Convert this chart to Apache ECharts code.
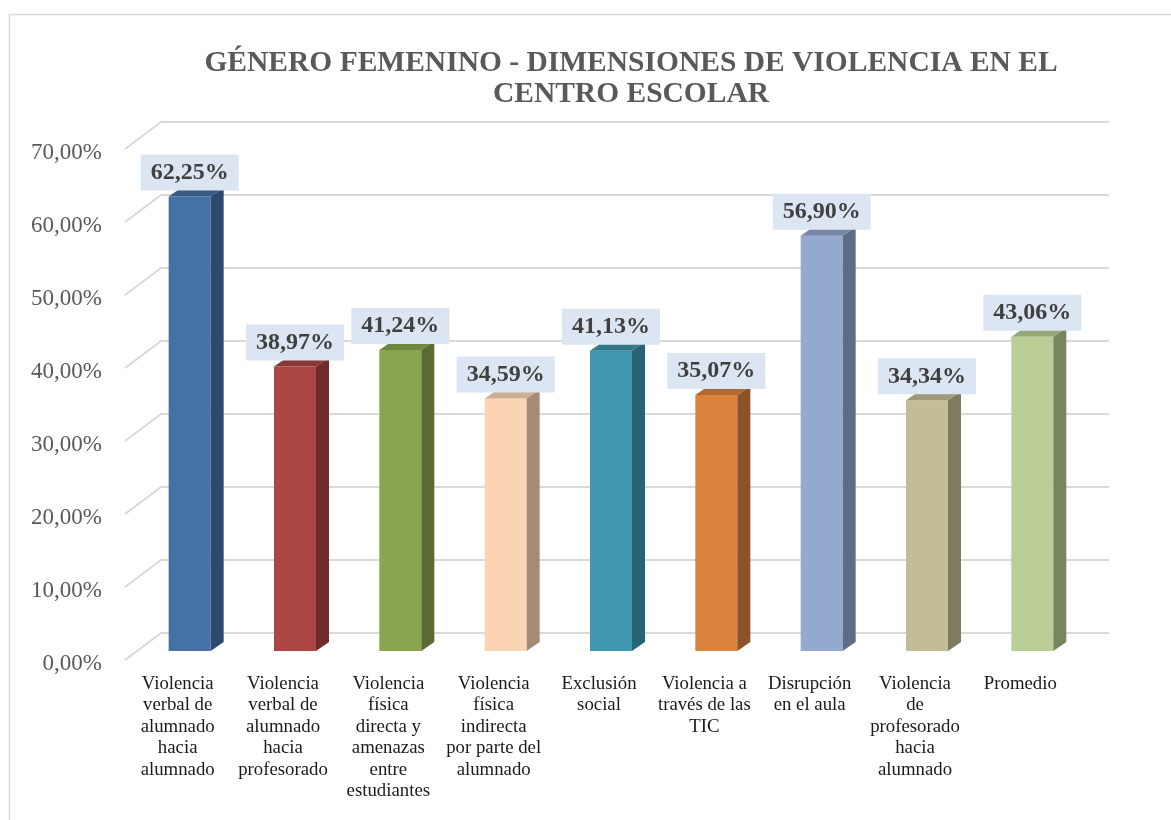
<!DOCTYPE html>
<html>
<head>
<meta charset="utf-8">
<script src="https://cdn.jsdelivr.net/npm/echarts@6/dist/echarts.min.js"></script>
<style>
html,body{margin:0;padding:0;background:#fff;}
#chart{width:1171px;height:820px;}
</style>
</head>
<body>
<div id="chart"></div>
<script>
var titleLines = ['GÉNERO FEMENINO - DIMENSIONES DE VIOLENCIA EN EL', 'CENTRO ESCOLAR'];
var categories = [
  'Violencia\nverbal de\nalumnado\nhacia\nalumnado',
  'Violencia\nverbal de\nalumnado\nhacia\nprofesorado',
  'Violencia\nfísica\ndirecta y\namenazas\nentre\nestudiantes',
  'Violencia\nfísica\nindirecta\npor parte del\nalumnado',
  'Exclusión\nsocial',
  'Violencia a\ntravés de las\nTIC',
  'Disrupción\nen el aula',
  'Violencia\nde\nprofesorado\nhacia\nalumnado',
  'Promedio'
];
var values = [62.25, 38.97, 41.24, 34.59, 41.13, 35.07, 56.90, 34.34, 43.06];
var yTicks = [0, 10, 20, 30, 40, 50, 60, 70];
var frontColors = ['#4571A6', '#AA4744', '#89A54E', '#FBD4B4', '#4298AF', '#DB833D', '#94A9D0', '#C4BC96', '#B9CD95'];
var sideColors  = ['#2D4A6E', '#6E2C2A', '#5B6B33', '#A58A75', '#296272', '#8C5328', '#5E6D86', '#807A61', '#788660'];
var topColors   = ['#355A87', '#8A3836', '#6F8640', '#CDAE93', '#33798C', '#B06A31', '#7786A6', '#9F997A', '#96A87A'];

function fmt(v) { return v.toFixed(2).replace('.', ',') + '%'; }

var FONT = '"Liberation Serif", "Times New Roman", serif';
var DX = 36, DY = -27;       // wall depth
var FX = 12, FY = -9;        // bar front face offset
var BX = 13, BY = -9;        // bar depth
var BW = 42;                 // bar width

var chart = echarts.init(document.getElementById('chart'));
chart.setOption({
  animation: false,
  backgroundColor: '#ffffff',
  graphic: [
    { type: 'rect', shape: { x: 9.5, y: 14.5, width: 1400, height: 1000 },
      style: { fill: 'none', stroke: '#D9D9D9', lineWidth: 1.5 }, z: 0 },
    { type: 'text', x: 631, y: 48,
      style: { text: titleLines.join('\n'), textAlign: 'center', textVerticalAlign: 'top',
               font: 'bold 29.5px ' + FONT, fill: '#595959', lineHeight: 31 } }
  ],
  grid: { left: 125, right: 98, top: 149, bottom: 160, containLabel: false },
  xAxis: {
    type: 'category', data: categories,
    axisLine: { show: false }, axisTick: { show: false }, splitLine: { show: false },
    axisLabel: { interval: 0, margin: 13, fontFamily: FONT, fontSize: 18.8, lineHeight: 21.5, color: '#1a1a1a' }
  },
  yAxis: {
    type: 'value', min: 0, max: 70, interval: 10,
    axisLine: { show: false }, axisTick: { show: false }, splitLine: { show: false },
    axisLabel: { margin: 23, fontFamily: FONT, fontSize: 23, color: '#595959',
                 formatter: function (v) { return '{a|' + fmt(v) + '}'; },
                 rich: { a: { fontFamily: FONT, fontSize: 23, color: '#595959', padding: [8, 0, 0, 0] } } }
  },
  series: [
    {
      type: 'custom', z: 1, silent: true,
      data: yTicks.map(function (t) { return [0, t]; }),
      renderItem: function (params, api) {
        var cs = params.coordSys;
        var y = api.coord([0, api.value(1)])[1];
        return {
          type: 'polyline',
          shape: { points: [[cs.x, y], [cs.x + DX, y + DY], [cs.x + cs.width + DX, y + DY]] },
          style: { stroke: '#D9D9D9', lineWidth: 2, fill: null }
        };
      }
    },
    {
      type: 'custom', z: 2,
      data: values.map(function (v, i) { return [i, v]; }),
      renderItem: function (params, api) {
        var i = api.value(0), v = api.value(1);
        var pt = api.coord([i, v]);
        var p0 = api.coord([i, 0]);
        var cx = pt[0] + FX;
        var xl = cx - BW / 2, xr = cx + BW / 2;
        var yt = pt[1] + FY, yb = p0[1] + FY;
        return {
          type: 'group',
          children: [
            { type: 'rect', shape: { x: xl, y: yt, width: BW, height: yb - yt },
              style: { fill: frontColors[i] } },
            { type: 'polygon', shape: { points: [[xr, yt], [xr + BX, yt + BY], [xr + BX, yb + BY], [xr, yb]] },
              style: { fill: sideColors[i] } },
            { type: 'polygon', shape: { points: [[xl, yt], [xr, yt], [xr + BX, yt + BY], [xl + BX, yt + BY]] },
              style: { fill: topColors[i] } },
            { type: 'text', x: cx, y: yt - 6,
              style: { text: fmt(v), align: 'center', verticalAlign: 'bottom',
                       font: 'bold 24px ' + FONT, fill: '#404040',
                       backgroundColor: '#DCE6F2', padding: [6, 10, 6, 10], lineHeight: 24 } }
          ]
        };
      }
    }
  ]
});
</script>
</body>
</html>
